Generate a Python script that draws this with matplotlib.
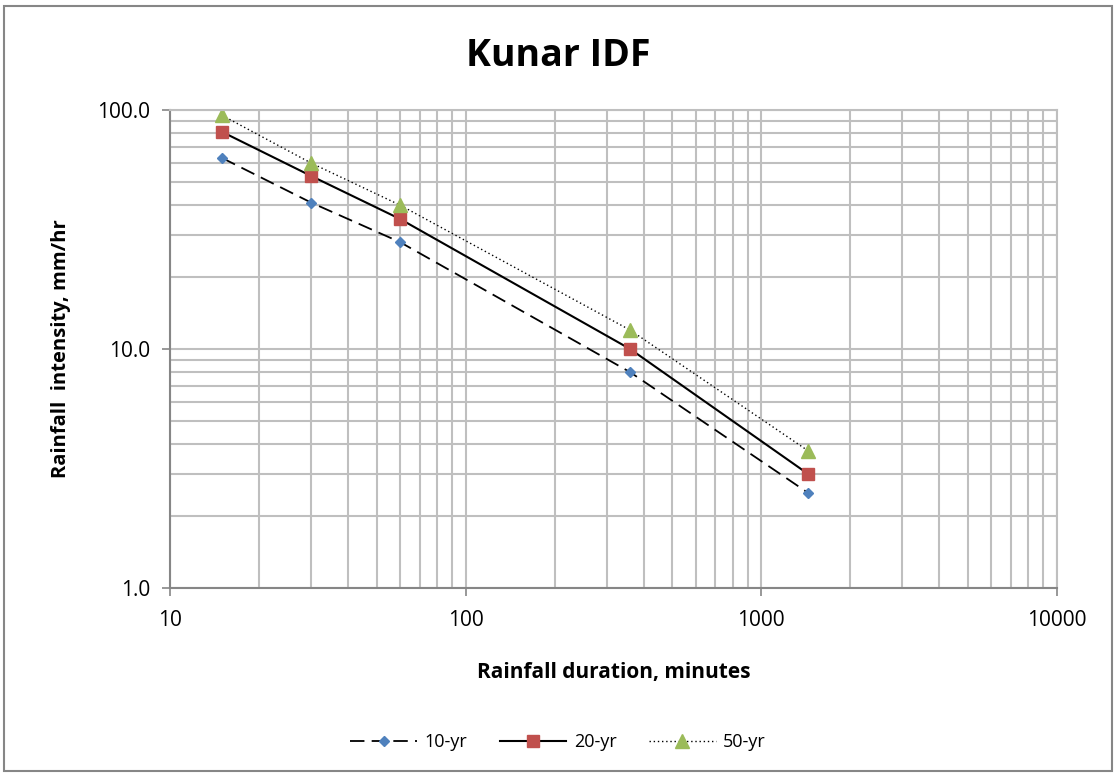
import matplotlib.pyplot as plt
from matplotlib.patches import Rectangle
from matplotlib.ticker import FixedLocator, FuncFormatter, NullFormatter

plt.rcParams['font.family'] = ['Open Sans', 'DejaVu Sans']

# Data
duration = [15, 30, 60, 360, 1440]
yr10 = [63, 41, 28, 8.0, 2.5]
yr20 = [81, 53, 35, 10.0, 3.0]
yr50 = [95, 60, 40, 12.0, 3.75]

fig = plt.figure(figsize=(11.16, 7.73), dpi=100)
ax = fig.add_axes([0.1523, 0.2393, 0.7948, 0.6184])

grid_c = '#BFBFBF'

ax.plot(duration, yr10, color='black', lw=1.3, dashes=(8, 4),
        marker='D', ms=5, mfc='#4F81BD', mec='#4F81BD', label='10-yr')
ax.plot(duration, yr20, color='black', lw=1.5,
        marker='s', ms=8, mfc='#C0504D', mec='#C0504D', label='20-yr')
ax.plot(duration, yr50, color='black', lw=1.0, ls=(0, (1, 2)),
        marker='^', ms=10, mfc='#9BBB59', mec='#9BBB59', label='50-yr')

ax.set_xscale('log')
ax.set_yscale('log')
ax.set_xlim(10, 10000)
ax.set_ylim(1, 100)

ax.xaxis.set_major_locator(FixedLocator([10, 100, 1000, 10000]))
ax.yaxis.set_major_locator(FixedLocator([1, 10, 100]))
ax.xaxis.set_major_formatter(FuncFormatter(lambda v, p: '%d' % v))
ax.yaxis.set_major_formatter(FuncFormatter(lambda v, p: '%.1f' % v))
ax.xaxis.set_minor_formatter(NullFormatter())
ax.yaxis.set_minor_formatter(NullFormatter())

ax.grid(True, which='both', color=grid_c, lw=1.5)
ax.set_axisbelow(True)
ax.tick_params(which='major', length=6, width=1.2, color='#868686',
               labelsize=15, pad=8)
ax.tick_params(which='minor', length=0)
ax.tick_params(axis='x', pad=10)

for s in ['top', 'right']:
    ax.spines[s].set_color(grid_c)
    ax.spines[s].set_linewidth(1.5)
for s in ['left', 'bottom']:
    ax.spines[s].set_color('#868686')
    ax.spines[s].set_linewidth(1.5)

ax.set_xlabel('Rainfall duration, minutes', fontsize=15, fontweight='bold', labelpad=22)
ax.set_ylabel('Rainfall  intensity, mm/hr', fontsize=14.5, fontweight='bold', labelpad=19)

fig.text(0.5, 0.928, 'Kunar IDF', ha='center', va='center',
         fontsize=27, fontweight='bold')

fig.legend(loc='center', bbox_to_anchor=(0.5, 0.04), ncol=3, frameon=False,
           fontsize=13, handlelength=3.7, columnspacing=1.8, handletextpad=0.4)

fig.patches.append(Rectangle((0.004, 0.003), 0.992, 0.989, transform=fig.transFigure,
                             fill=False, edgecolor='#868686', lw=1.5))

fig.savefig('out.png', dpi=100)
